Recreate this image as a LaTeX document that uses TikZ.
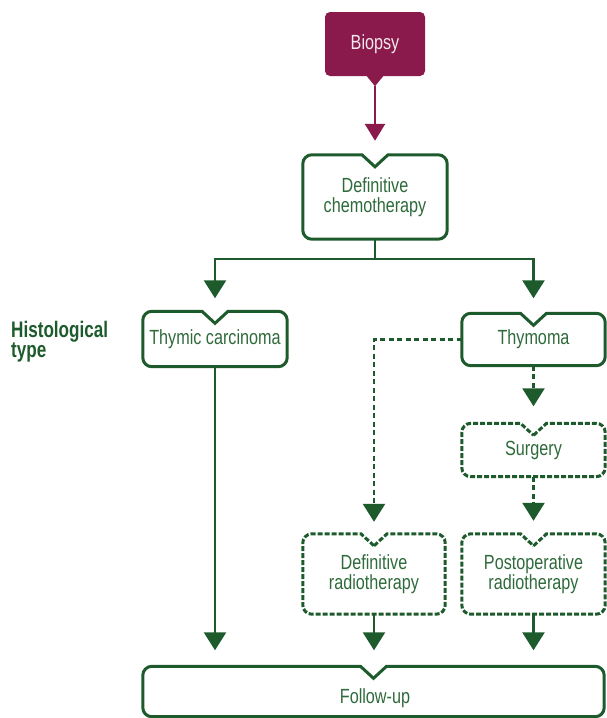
\documentclass[tikz,border=0pt]{standalone}
\usepackage{fontspec}
\setmainfont{Liberation Sans}[FakeStretch=0.79]
\newfontfamily\boldcond{Liberation Sans}[FakeStretch=0.76]
\usetikzlibrary{arrows.meta,calc}
\definecolor{dkgreen}{HTML}{1E5B2C}
\definecolor{txgreen}{HTML}{2E6A3A}
\definecolor{mag}{HTML}{8A1A4B}
\newcommand\notchoutline[2][]{%
  \draw[#1] let \p1=(#2.north west), \p2=(#2.south east), \p3=(#2.north) in
   (\x3,\y1-12pt) -- (\x3+13pt,\y1) [rounded corners=9pt] -- (\x2,\y1) -- (\x2,\y2) -- (\x1,\y2) -- (\x1,\y1) [sharp corners] -- (\x3-13pt,\y1) -- cycle;}
\tikzset{
  box/.style={draw=none, inner sep=0pt, align=center, text=txgreen,
    font=\fontsize{20.5}{20.5}\selectfont},
  solidline/.style={draw=dkgreen, line width=3pt},
  dashline/.style={draw=dkgreen, line width=3pt, dash pattern=on 5pt off 2pt},
  conn/.style={draw=dkgreen, line width=2.6pt},
  dconn/.style={draw=dkgreen, line width=2.6pt, dash pattern=on 5pt off 3.5pt},
  arr/.style={-{Triangle[width=22pt,length=18pt]}},
}
\begin{document}
\begin{tikzpicture}[x=1pt,y=-1pt]
\useasboundingbox (0,0) rectangle (606,718);
% Biopsy
\node[fill=mag, rounded corners=5pt, minimum width=100pt, minimum height=64pt,
  inner sep=0pt, text=white!90!mag, font=\fontsize{20.5}{21}\selectfont] (bio) at (375,44) {Biopsy};
\coordinate (bioptr) at ($(bio.south)+(0,10)$);
\fill[mag] ($(bio.south)+(-9,-1)$) -- (bioptr) -- ($(bio.south)+(9,-1)$) -- cycle;
% boxes
\node[box, minimum width=144pt, minimum height=84pt] (chemo) at (375,197) {Definitive\\chemotherapy};
\node[box, minimum width=144pt, minimum height=55pt] (thc) at (215,339) {Thymic carcinoma};
\node[box, minimum width=143pt, minimum height=52pt] (thy) at (533.5,339.5) {Thymoma};
\node[box, minimum width=143pt, minimum height=53pt] (sur) at (533.5,450) {Surgery};
\node[box, minimum width=142pt, minimum height=80pt] (drt) at (374,574) {Definitive\\radiotherapy};
\node[box, minimum width=143pt, minimum height=80pt] (prt) at (533.5,574) {Postoperative\\radiotherapy};
\node[box, minimum width=461pt, minimum height=50pt] (fu) at (373.5,691.5) {};
\node[box, anchor=center] (futext) at (375,698) {Follow-up};
\node[anchor=north west, inner sep=0pt, align=left, text=dkgreen,
  font=\fontsize{22.5}{19}\selectfont\boldcond\bfseries] (hist) at (11,321) {Histological\\type};
\notchoutline[solidline]{chemo}
\notchoutline[solidline]{thc}
\notchoutline[solidline]{thy}
\notchoutline[dashline]{sur}
\notchoutline[dashline]{drt}
\notchoutline[dashline]{prt}
\notchoutline[solidline]{fu}
% connectors
\draw[draw=mag, line width=2.8pt, -{Triangle[width=20pt,length=17pt]}, shorten >=14pt] (bioptr) -- (chemo.north);
\coordinate (split) at (375,259);
\draw[conn] (chemo.south) -- (split);
\draw[conn, arr, shorten >=13pt] (split) -| (thc.north);
\draw[conn, arr, shorten >=15pt] (split) -| (thy.north);
\draw[dconn, arr, shorten >=12pt] (thy.west) -| (drt.north);
\draw[dconn, arr, shorten >=17pt] (thy.south) -- (sur.north);
\draw[dconn, arr, shorten >=13pt] (sur.south) -- (prt.north);
\draw[conn, arr, shorten >=16pt] (thc.south) -- (thc.south |- fu.north);
\draw[conn, arr, shorten >=16pt] (drt.south) -- (drt.south |- fu.north);
\draw[conn, arr, shorten >=16pt] (prt.south) -- (prt.south |- fu.north);
\end{tikzpicture}
\end{document}
